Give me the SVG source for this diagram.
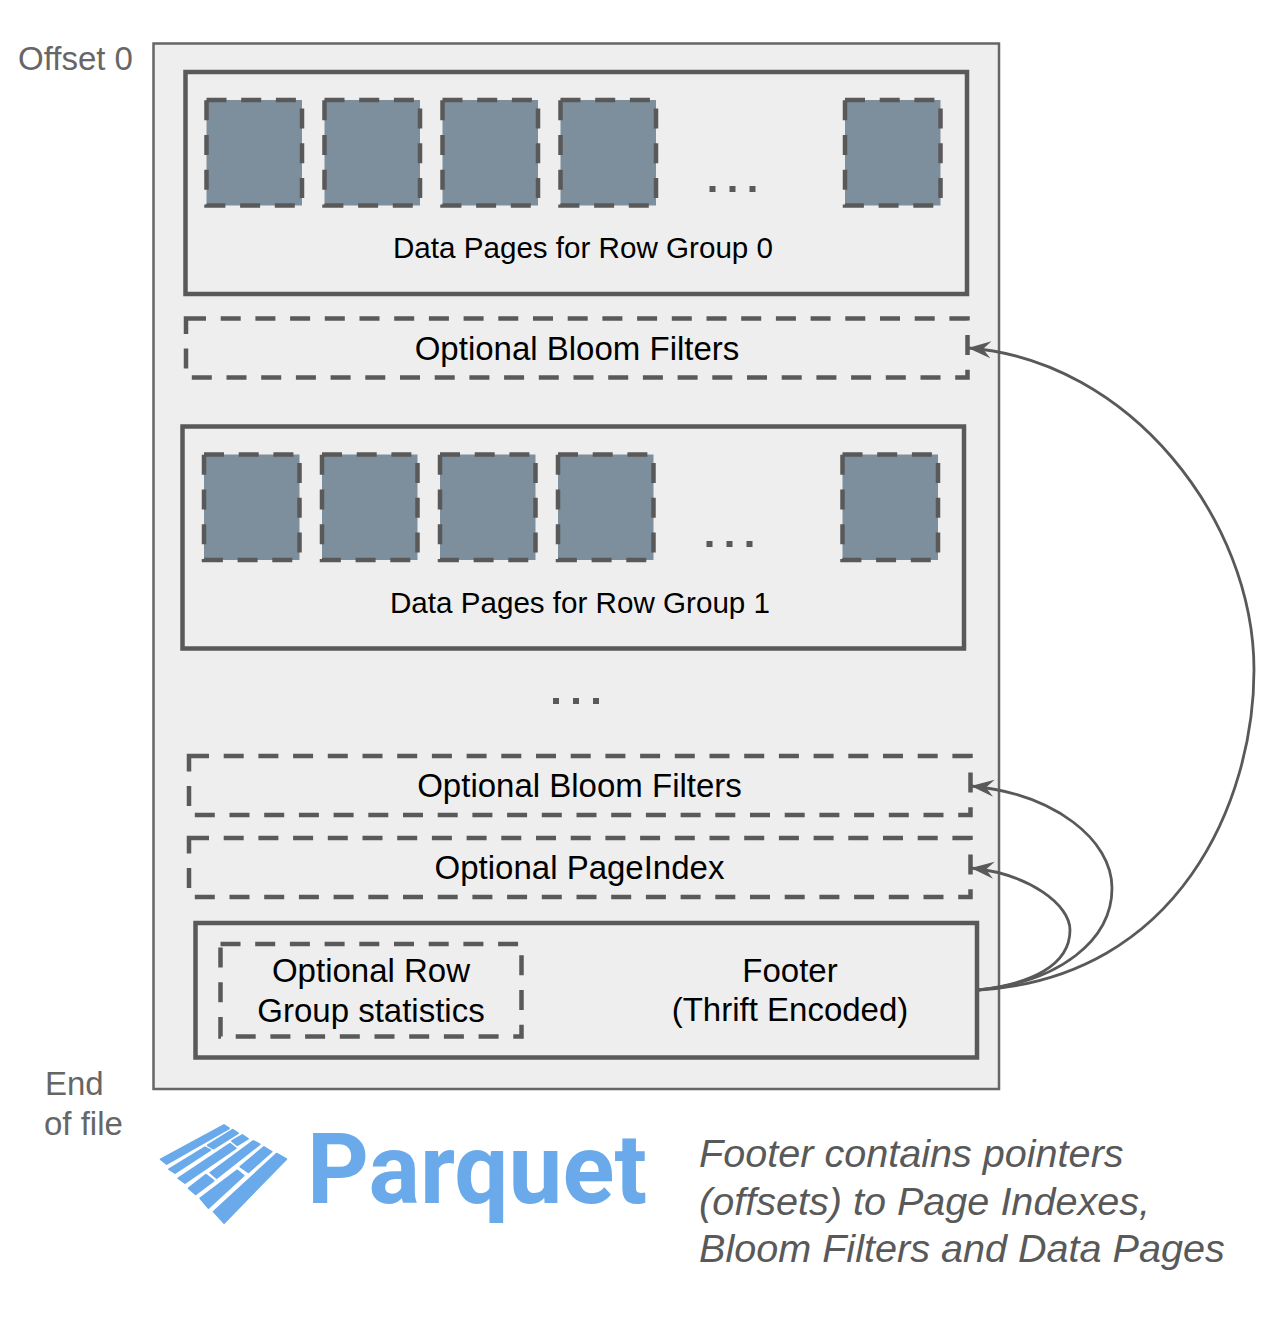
<svg xmlns="http://www.w3.org/2000/svg" width="1288" height="1318" viewBox="0 0 1288 1318">
<style>
text{font-family:"Liberation Sans",Arial,sans-serif;fill:#000}
.m{text-anchor:middle}
.l{font-size:33px}
.s{font-size:29.600px}
.g{font-size:33px;fill:#666}
.i{font-size:39.600px;font-style:italic;fill:#595959}
.box{fill:none;stroke:#595959;stroke-width:4.5}
.dash{fill:none;stroke:#595959;stroke-width:4.5;stroke-dasharray:20 14.7}
.page{fill:#7d8f9c;stroke:#595959;stroke-width:4.5;stroke-dasharray:20 14.7}
.dots{fill:#595959}
.c{fill:none;stroke:#595959;stroke-width:2.800;marker-end:url(#arrow)}
.b{fill:#6aaaeb;stroke:#6aaaeb;stroke-width:5.500;stroke-linejoin:round}
</style>
<defs>
<marker id="arrow" markerUnits="userSpaceOnUse" markerWidth="26" markerHeight="22" refX="24" refY="10" orient="auto" viewBox="0 0 26 20">
<path d="M24,10 L1,1.500 L9,10 L1,18.500 Z" fill="#595959"/>
</marker>
</defs>
<rect width="1288" height="1318" fill="#fff"/>
<g id="file"><rect x="153.500" y="43.500" width="845.500" height="1045.500" fill="#eee" stroke="#666" stroke-width="2.500"/></g>
<text id="offset" class="g" x="18" y="70">Offset 0</text>
<g id="rowgroup0">
<rect class="box" x="185.500" y="72" width="781.500" height="222"/>
<rect class="page" x="206.500" y="100" width="95.500" height="105.500"/>
<rect class="page" x="324.500" y="100" width="95.500" height="105.500"/>
<rect class="page" x="442.500" y="100" width="95.500" height="105.500"/>
<rect class="page" x="560.500" y="100" width="95.500" height="105.500"/>
<rect class="page" x="845" y="100" width="95.500" height="105.500"/>
<path class="dots" d="M709.500,186h6v6h-6zM729.500,186h6v6h-6zM749.500,186h6v6h-6z"/>
<text class="s m" x="583" y="258">Data Pages for Row Group 0</text>
</g>
<g id="bloom0"><rect class="dash" x="186" y="318.500" width="781.500" height="59"/>
<text class="l m" x="577" y="360">Optional Bloom Filters</text></g>
<g id="rowgroup1">
<rect class="box" x="182.500" y="426.500" width="781.500" height="222"/>
<rect class="page" x="204" y="454.500" width="95.500" height="105.500"/>
<rect class="page" x="322" y="454.500" width="95.500" height="105.500"/>
<rect class="page" x="440" y="454.500" width="95.500" height="105.500"/>
<rect class="page" x="558" y="454.500" width="95.500" height="105.500"/>
<rect class="page" x="842.500" y="454.500" width="95.500" height="105.500"/>
<path class="dots" d="M706.500,541h6v6h-6zM726.500,541h6v6h-6zM746.500,541h6v6h-6z"/>
<text class="s m" x="580" y="613">Data Pages for Row Group 1</text>
</g>
<g id="ellipsis"><path class="dots" d="M553,698h6v6h-6zM573,698h6v6h-6zM593,698h6v6h-6z"/></g>
<g id="bloomN"><rect class="dash" x="189" y="756" width="781.500" height="59"/>
<text class="l m" x="579.500" y="797">Optional Bloom Filters</text></g>
<g id="pageindex"><rect class="dash" x="189" y="838" width="781.500" height="59"/>
<text class="l m" x="579.500" y="879">Optional PageIndex</text></g>
<g id="footer"><rect class="box" x="195.500" y="923" width="781.500" height="134.500"/>
<rect class="dash" x="220.500" y="944" width="301" height="92.500"/>
<text class="l m" x="371" y="982">Optional Row</text>
<text class="l m" x="371" y="1022">Group statistics</text>
<text class="l m" x="790" y="982">Footer</text>
<text class="l m" x="790" y="1021">(Thrift Encoded)</text>
</g>
<g id="connectors">
<path class="c" d="M978,990 C1180,978 1254,800 1254,670 C1254,520 1130,360 968,348"/>
<path class="c" d="M978,990 C1060,982 1112,940 1112,888 C1112,840 1055,794 971,786"/>
<path class="c" d="M978,990 C1030,984 1070,966 1070,930 C1070,905 1030,874 971,868"/>
</g>
<text id="eof" class="g"><tspan x="45" y="1095">End</tspan><tspan x="44" y="1135">of file</tspan></text>
<g id="logo">
<g transform="translate(150,1110) scale(0.3333)">
<polygon class="b" points="32,148 222,45 237,55 50,162"/>
<polygon class="b" points="57,178 165,112 181,120 75,189"/>
<polygon class="b" points="173,106 248,59 264,70 190,116"/>
<polygon class="b" points="246,93 277,75 294,86 262,106"/>
<polygon class="b" points="85,205 240,101 257,115 105,219"/>
<polygon class="b" points="181,188 310,93 329,103 200,204"/>
<polygon class="b" points="116,235 168,194 191,212 137,253"/>
<polygon class="b" points="151,265 262,181 281,197 175,294"/>
<polygon class="b" points="271,170 342,111 365,125 295,187"/>
<polygon class="b" points="191,305 380,131 409,147 222,339"/>
</g>
<text x="307" y="1203" font-size="98" font-weight="700" textLength="340" lengthAdjust="spacingAndGlyphs" style="font-family:Roboto,sans-serif;fill:#6aaaeb">Parquet</text>
</g>
<g id="note">
<text class="i" x="699" y="1167">Footer contains pointers</text>
<text class="i" x="699" y="1215">(offsets) to Page Indexes,</text>
<text class="i" x="699" y="1262">Bloom Filters and Data Pages</text>
</g>
</svg>
